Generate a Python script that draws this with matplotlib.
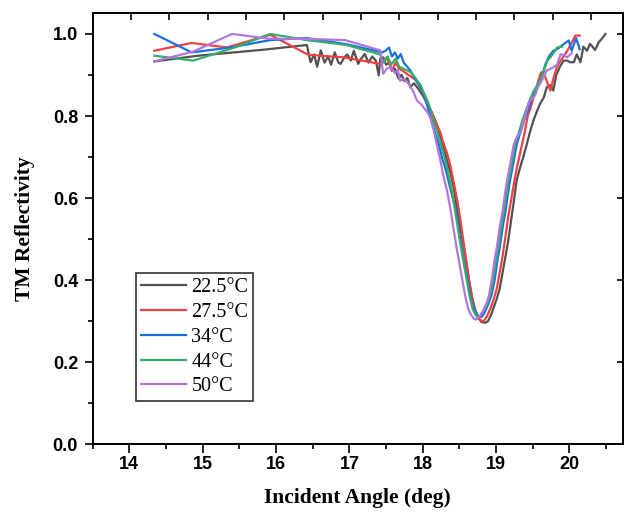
import numpy as np
import matplotlib
matplotlib.use("Agg")
import matplotlib.pyplot as plt
from matplotlib.ticker import MultipleLocator

# ---- data ----
labels = ["22.5°C", "27.5°C", "34°C", "44°C", "50°C"]
colors = ["#515151", "#F14040", "#1A6FDF", "#37AD6B", "#B177DE"]

x_22 = [14.34, 14.94, 15.85, 16.42, 16.47, 16.52, 16.56, 16.61, 16.66, 16.71, 16.75, 16.80,
        16.85, 16.88, 16.93, 16.97, 17.02, 17.06, 17.12, 17.16, 17.21, 17.26, 17.31, 17.36,
        17.40, 17.42, 17.46, 17.50, 17.54, 17.58, 17.62, 17.67, 17.71, 17.75, 17.79, 17.83,
        17.88, 17.94, 18.00, 18.06, 18.12, 18.17, 18.21, 18.24, 18.29, 18.33, 18.38, 18.42,
        18.47, 18.51, 18.55, 18.59, 18.63, 18.67, 18.71, 18.75, 18.80, 18.85, 18.89, 18.93,
        18.97, 19.01, 19.05, 19.09, 19.13, 19.16, 19.20, 19.24, 19.28, 19.32, 19.37, 19.42,
        19.46, 19.51, 19.56, 19.60, 19.65, 19.69, 19.74, 19.78, 19.82, 19.87, 19.92, 19.97,
        20.01, 20.06, 20.10, 20.15, 20.19, 20.24, 20.28, 20.35, 20.40, 20.45, 20.49]
y_22 = [0.933, 0.947, 0.962, 0.973, 0.931, 0.950, 0.920, 0.960, 0.930, 0.945, 0.925, 0.955,
        0.930, 0.927, 0.943, 0.950, 0.935, 0.959, 0.927, 0.940, 0.951, 0.930, 0.945, 0.935,
        0.899, 0.940, 0.943, 0.925, 0.930, 0.910, 0.915, 0.891, 0.900, 0.885, 0.893, 0.870,
        0.880, 0.866, 0.850, 0.830, 0.810, 0.789, 0.770, 0.748, 0.720, 0.692, 0.660, 0.627,
        0.570, 0.530, 0.490, 0.450, 0.400, 0.360, 0.330, 0.310, 0.298, 0.296, 0.300, 0.315,
        0.335, 0.355, 0.380, 0.420, 0.460, 0.490, 0.540, 0.590, 0.643, 0.670, 0.700, 0.732,
        0.760, 0.790, 0.813, 0.830, 0.845, 0.870, 0.875, 0.862, 0.900, 0.920, 0.935, 0.935,
        0.931, 0.931, 0.950, 0.931, 0.969, 0.959, 0.976, 0.961, 0.980, 0.990, 1.000]

x_27 = [14.34, 14.85, 15.33, 15.92, 16.44, 16.92, 17.42, 17.47, 17.51, 17.55, 17.58, 17.63,
        17.68, 17.73, 17.78, 17.85, 17.92, 17.99, 18.06, 18.12, 18.19, 18.24, 18.28, 18.33,
        18.37, 18.42, 18.47, 18.51, 18.55, 18.59, 18.63, 18.67, 18.71, 18.75, 18.79, 18.83,
        18.87, 18.92, 18.97, 19.01, 19.05, 19.09, 19.13, 19.17, 19.21, 19.25, 19.29, 19.34,
        19.39, 19.43, 19.47, 19.51, 19.55, 19.60, 19.62, 19.66, 19.70, 19.74, 19.78, 19.83,
        19.88, 19.92, 19.97, 20.02, 20.08, 20.14]
y_27 = [0.959, 0.978, 0.967, 0.998, 0.949, 0.943, 0.927, 0.935, 0.943, 0.925, 0.911, 0.930,
        0.915, 0.910, 0.903, 0.895, 0.886, 0.860, 0.830, 0.810, 0.780, 0.760, 0.735, 0.710,
        0.684, 0.640, 0.594, 0.550, 0.500, 0.450, 0.400, 0.360, 0.330, 0.310, 0.302, 0.300,
        0.310, 0.330, 0.355, 0.380, 0.420, 0.460, 0.510, 0.560, 0.600, 0.643, 0.680, 0.720,
        0.760, 0.800, 0.820, 0.845, 0.870, 0.900, 0.907, 0.900, 0.880, 0.862, 0.890, 0.920,
        0.935, 0.945, 0.959, 0.975, 0.996, 0.996]

x_34 = [14.34, 14.85, 15.38, 15.92, 16.42, 16.96, 17.40, 17.45, 17.50, 17.54, 17.58, 17.62,
        17.66, 17.70, 17.74, 17.79, 17.83, 17.88, 17.93, 17.97, 18.03, 18.08, 18.13, 18.17,
        18.22, 18.26, 18.32, 18.37, 18.41, 18.45, 18.49, 18.53, 18.57, 18.61, 18.65, 18.69,
        18.73, 18.77, 18.80, 18.84, 18.89, 18.94, 18.98, 19.02, 19.05, 19.09, 19.13, 19.16,
        19.19, 19.24, 19.28, 19.33, 19.38, 19.43, 19.48, 19.53, 19.58, 19.63, 19.67, 19.72,
        19.78, 19.85, 19.92, 19.99, 20.03, 20.09, 20.14]
y_34 = [1.000, 0.955, 0.967, 0.985, 0.990, 0.975, 0.957, 0.955, 0.960, 0.967, 0.945, 0.955,
        0.940, 0.951, 0.930, 0.920, 0.911, 0.895, 0.880, 0.870, 0.845, 0.813, 0.785, 0.757,
        0.730, 0.700, 0.665, 0.627, 0.600, 0.570, 0.525, 0.480, 0.440, 0.400, 0.360, 0.335,
        0.318, 0.310, 0.310, 0.320, 0.340, 0.365, 0.400, 0.450, 0.480, 0.530, 0.570, 0.610,
        0.643, 0.690, 0.730, 0.760, 0.790, 0.810, 0.840, 0.860, 0.880, 0.900, 0.925, 0.945,
        0.959, 0.965, 0.975, 0.984, 0.959, 0.990, 0.963]

x_44 = [14.34, 14.87, 15.42, 15.92, 16.42, 16.96, 17.42, 17.47, 17.52, 17.57, 17.63, 17.68,
        17.74, 17.80, 17.85, 17.91, 17.97, 18.02, 18.08, 18.13, 18.19, 18.25, 18.31, 18.36,
        18.40, 18.44, 18.48, 18.52, 18.56, 18.60, 18.64, 18.68, 18.72, 18.75, 18.78, 18.82,
        18.87, 18.92, 18.96, 19.00, 19.03, 19.07, 19.11, 19.14, 19.17, 19.22, 19.26, 19.31,
        19.36, 19.41, 19.46, 19.51, 19.56, 19.61, 19.66, 19.70, 19.74, 19.79, 19.83, 19.90]
y_44 = [0.947, 0.935, 0.966, 1.000, 0.985, 0.973, 0.950, 0.930, 0.945, 0.925, 0.940, 0.920,
        0.915, 0.910, 0.905, 0.890, 0.875, 0.855, 0.830, 0.800, 0.765, 0.730, 0.690, 0.650,
        0.615, 0.570, 0.525, 0.480, 0.440, 0.400, 0.360, 0.330, 0.315, 0.310, 0.312, 0.322,
        0.340, 0.365, 0.400, 0.450, 0.480, 0.530, 0.570, 0.610, 0.643, 0.690, 0.730, 0.760,
        0.790, 0.815, 0.840, 0.860, 0.875, 0.890, 0.915, 0.935, 0.943, 0.955, 0.967, 0.969]

x_50 = [14.34, 14.87, 15.40, 15.92, 16.42, 16.94, 17.42, 17.46, 17.51, 17.56, 17.62, 17.66,
        17.69, 17.75, 17.81, 17.87, 17.92, 17.97, 18.01, 18.06, 18.10, 18.15, 18.19, 18.24,
        18.28, 18.33, 18.38, 18.42, 18.46, 18.50, 18.54, 18.58, 18.62, 18.66, 18.70, 18.73,
        18.77, 18.82, 18.86, 18.90, 18.94, 18.98, 19.01, 19.05, 19.09, 19.12, 19.15, 19.20,
        19.24, 19.28, 19.33, 19.37, 19.41, 19.45, 19.49, 19.53, 19.57, 19.61, 19.65, 19.69,
        19.74, 19.78, 19.83, 19.88, 19.92, 19.97, 20.03]
y_50 = [0.933, 0.957, 1.000, 0.988, 0.988, 0.985, 0.960, 0.903, 0.915, 0.919, 0.905, 0.912,
        0.886, 0.890, 0.878, 0.860, 0.838, 0.830, 0.821, 0.810, 0.797, 0.765, 0.732, 0.692,
        0.655, 0.619, 0.570, 0.525, 0.480, 0.440, 0.400, 0.360, 0.330, 0.315, 0.306, 0.304,
        0.310, 0.325, 0.340, 0.360, 0.400, 0.450, 0.480, 0.530, 0.570, 0.610, 0.643, 0.690,
        0.730, 0.748, 0.760, 0.780, 0.810, 0.835, 0.842, 0.850, 0.870, 0.882, 0.895, 0.911,
        0.915, 0.919, 0.925, 0.951, 0.948, 0.943, 0.953]

xs = [x_22, x_27, x_34, x_44, x_50]
ys = [y_22, y_27, y_34, y_44, y_50]


def main() -> None:
    fig = plt.figure(figsize=(6.25, 5.16), dpi=100)
    ax = fig.add_axes([0.1483, 0.139, 0.8485, 0.835])

    for x, y, label, color in zip(xs, ys, labels, colors):
        ax.plot(x, y, color=color, lw=1.6, label=label)

    ax.set_xlim(13.5, 20.73)
    ax.set_ylim(0.0, 1.05)

    ax.xaxis.set_major_locator(MultipleLocator(1))
    ax.xaxis.set_minor_locator(MultipleLocator(0.5))
    ax.yaxis.set_major_locator(MultipleLocator(0.2))
    ax.yaxis.set_minor_locator(MultipleLocator(0.1))
    ax.tick_params(axis="both", which="major", direction="out", length=6.5, width=1.2, pad=2)
    ax.tick_params(axis="both", which="minor", direction="out", length=3.5, width=1.2)
    ax.tick_params(axis="y", which="major", length=5.5, pad=5)
    ax.tick_params(axis="y", which="minor", length=3.5)

    for lab in ax.get_xticklabels() + ax.get_yticklabels():
        lab.set_fontfamily("Liberation Sans")
        lab.set_fontweight("bold")
        lab.set_fontsize(13)

    for sp in ax.spines.values():
        sp.set_linewidth(1.2)

    # top axis ticks (inward, own spacing) and right ticks (inward)
    top = ax.twiny()
    top.set_xlim(ax.get_xlim())
    top.set_xticks(13.5 + 0.5227 * np.arange(1, 14))
    top.tick_params(axis="x", direction="in", length=5, width=1.2, labeltop=False)
    right = ax.twinx()
    right.set_ylim(ax.get_ylim())
    right.yaxis.set_major_locator(MultipleLocator(0.2))
    right.tick_params(axis="y", direction="in", length=4.5, width=1.2, labelright=False)
    for a in (top, right):
        for sp in a.spines.values():
            sp.set_linewidth(1.2)

    ax.set_xlabel("Incident Angle (deg)", fontfamily="Liberation Serif",
                  fontweight="bold", fontsize=15.5, labelpad=11)
    ax.set_ylabel("TM Reflectivity", fontfamily="Liberation Serif",
                  fontweight="bold", fontsize=15.5, labelpad=13)

    leg = ax.legend(loc="upper left", bbox_to_anchor=(0.0817, 0.397), borderaxespad=0,
                    prop={"family": "Liberation Serif", "size": 14.5},
                    handlelength=2.25, handletextpad=0.25, labelspacing=0.28,
                    borderpad=0.25, fancybox=False, framealpha=1)
    leg.get_frame().set_edgecolor("#333333")
    leg.get_frame().set_linewidth(1.2)

    fig.savefig("out.png", dpi=100)


if __name__ == "__main__":
    main()
